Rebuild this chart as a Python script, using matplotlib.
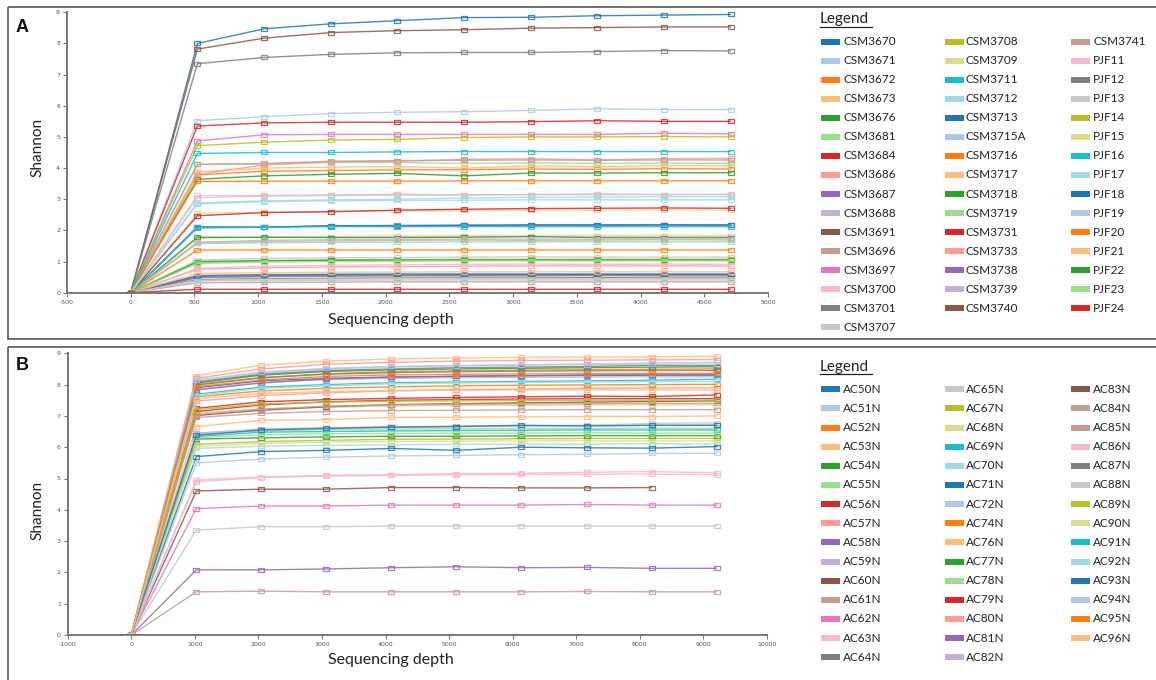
import matplotlib
matplotlib.use('Agg')
import matplotlib.pyplot as plt
from matplotlib.path import Path
from matplotlib.patches import Rectangle
from matplotlib.lines import Line2D

plt.rcParams['axes.unicode_minus'] = False

# ---- panel A data ----
depth_a = [0, 523, 1046, 1569, 2092, 2615, 3138, 3661, 4184, 4707]
names_a = ['CSM3670', 'CSM3671', 'CSM3672', 'CSM3673', 'CSM3676', 'CSM3681', 'CSM3684', 'CSM3686',
           'CSM3687', 'CSM3688', 'CSM3691', 'CSM3696', 'CSM3697', 'CSM3700', 'CSM3701', 'CSM3707',
           'CSM3708', 'CSM3709', 'CSM3711', 'CSM3712', 'CSM3713', 'CSM3715A', 'CSM3716', 'CSM3717',
           'CSM3718', 'CSM3719', 'CSM3731', 'CSM3733', 'CSM3738', 'CSM3739', 'CSM3740',
           'CSM3741', 'PJF11', 'PJF12', 'PJF13', 'PJF14', 'PJF15', 'PJF16', 'PJF17', 'PJF18',
           'PJF19', 'PJF20', 'PJF21', 'PJF22', 'PJF23', 'PJF24']
shannon_a = [
    [0, 8.00, 8.47, 8.63, 8.73, 8.83, 8.84, 8.89, 8.91, 8.93],
    [0, 5.52, 5.65, 5.75, 5.79, 5.81, 5.85, 5.90, 5.88, 5.88],
    [0, 3.78, 3.90, 3.92, 3.94, 3.95, 3.97, 3.96, 3.98, 3.97],
    [0, 3.88, 4.00, 4.03, 4.05, 4.00, 4.07, 4.05, 4.08, 4.07],
    [0, 3.64, 3.75, 3.80, 3.83, 3.75, 3.84, 3.84, 3.85, 3.85],
    [0, 4.12, 4.12, 4.18, 4.18, 4.15, 4.17, 4.15, 4.16, 4.15],
    [0, 5.35, 5.45, 5.47, 5.47, 5.47, 5.49, 5.52, 5.50, 5.50],
    [0, 3.80, 4.10, 4.20, 4.22, 4.28, 4.30, 4.26, 4.30, 4.31],
    [0, 2.08, 2.10, 2.15, 2.16, 2.17, 2.16, 2.16, 2.17, 2.16],
    [0, 1.60, 1.65, 1.66, 1.68, 1.69, 1.68, 1.69, 1.70, 1.69],
    [0, 7.82, 8.17, 8.35, 8.41, 8.44, 8.49, 8.51, 8.53, 8.53],
    [0, 4.12, 4.15, 4.22, 4.24, 4.25, 4.26, 4.25, 4.26, 4.26],
    [0, 4.87, 5.07, 5.08, 5.08, 5.08, 5.08, 5.08, 5.12, 5.10],
    [0, 3.12, 3.12, 3.14, 3.16, 3.14, 3.15, 3.17, 3.15, 3.16],
    [0, 7.35, 7.55, 7.65, 7.70, 7.71, 7.71, 7.74, 7.77, 7.76],
    [0, 1.05, 1.10, 1.12, 1.13, 1.14, 1.15, 1.14, 1.14, 1.14],
    [0, 4.72, 4.83, 4.90, 4.92, 4.98, 5.00, 5.00, 5.01, 5.00],
    [0, 2.55, 2.58, 2.60, 2.62, 2.64, 2.65, 2.65, 2.66, 2.65],
    [0, 4.47, 4.50, 4.50, 4.52, 4.53, 4.53, 4.53, 4.53, 4.53],
    [0, 2.88, 2.95, 2.98, 3.00, 3.04, 3.06, 3.07, 3.08, 3.08],
    [0, 2.12, 2.10, 2.15, 2.14, 2.16, 2.18, 2.18, 2.18, 2.18],
    [0, 0.48, 0.52, 0.55, 0.56, 0.56, 0.57, 0.57, 0.57, 0.57],
    [0, 3.57, 3.58, 3.58, 3.58, 3.59, 3.59, 3.59, 3.59, 3.59],
    [0, 1.75, 1.78, 1.80, 1.81, 1.82, 1.82, 1.82, 1.82, 1.82],
    [0, 1.78, 1.78, 1.77, 1.77, 1.78, 1.80, 1.77, 1.77, 1.77],
    [0, 1.58, 1.60, 1.62, 1.62, 1.63, 1.63, 1.64, 1.63, 1.63],
    [0, 2.47, 2.57, 2.60, 2.65, 2.68, 2.70, 2.71, 2.72, 2.71],
    [0, 0.75, 0.80, 0.83, 0.84, 0.85, 0.86, 0.86, 0.86, 0.86],
    [0, 0.49, 0.52, 0.53, 0.54, 0.54, 0.54, 0.55, 0.54, 0.54],
    [0, 1.62, 1.68, 1.70, 1.71, 1.72, 1.72, 1.72, 1.72, 1.72],
    [0, 0.42, 0.45, 0.46, 0.47, 0.47, 0.47, 0.48, 0.47, 0.47],
    [0, 0.32, 0.33, 0.34, 0.35, 0.35, 0.35, 0.35, 0.35, 0.35],
    [0, 0.78, 0.85, 0.88, 0.90, 0.91, 0.92, 0.91, 0.92, 0.91],
    [0, 0.52, 0.55, 0.57, 0.57, 0.58, 0.58, 0.58, 0.58, 0.58],
    [0, 3.05, 3.10, 3.12, 3.13, 3.14, 3.15, 3.15, 3.15, 3.15],
    [0, 0.96, 1.02, 1.05, 1.06, 1.07, 1.07, 1.07, 1.07, 1.07],
    [0, 0.40, 0.43, 0.44, 0.45, 0.45, 0.45, 0.45, 0.45, 0.45],
    [0, 2.10, 2.10, 2.12, 2.12, 2.12, 2.12, 2.12, 2.12, 2.12],
    [0, 2.85, 2.92, 2.95, 2.96, 2.97, 2.98, 2.98, 2.98, 2.98],
    [0, 0.55, 0.58, 0.59, 0.60, 0.60, 0.60, 0.60, 0.60, 0.60],
    [0, 0.38, 0.39, 0.40, 0.41, 0.41, 0.41, 0.41, 0.41, 0.41],
    [0, 1.37, 1.37, 1.37, 1.37, 1.37, 1.37, 1.37, 1.37, 1.37],
    [0, 0.62, 0.64, 0.66, 0.66, 0.67, 0.67, 0.67, 0.67, 0.67],
    [0, 1.00, 1.03, 1.04, 1.05, 1.05, 1.05, 1.05, 1.05, 1.05],
    [0, 0.94, 0.98, 1.00, 1.01, 1.02, 1.02, 1.02, 1.02, 1.02],
    [0, 0.11, 0.11, 0.11, 0.11, 0.11, 0.11, 0.11, 0.11, 0.11],
]

# ---- panel B data ----
depth_b = [0, 1023, 2046, 3069, 4092, 5115, 6138, 7161, 8184, 9207]
names_b = ['AC50N', 'AC51N', 'AC52N', 'AC53N', 'AC54N', 'AC55N', 'AC56N', 'AC57N', 'AC58N', 'AC59N',
           'AC60N', 'AC61N', 'AC62N', 'AC63N', 'AC64N', 'AC65N', 'AC67N', 'AC68N', 'AC69N', 'AC70N',
           'AC71N', 'AC72N', 'AC74N', 'AC76N', 'AC77N', 'AC78N', 'AC79N', 'AC80N', 'AC81N', 'AC82N',
           'AC83N', 'AC84N', 'AC85N', 'AC86N', 'AC87N', 'AC88N', 'AC89N', 'AC90N', 'AC91N', 'AC92N',
           'AC93N', 'AC94N', 'AC95N', 'AC96N']
shannon_b = [
    [0, 7.90, 8.12, 8.20, 8.24, 8.26, 8.28, 8.29, 8.30, 8.30],
    [0, 8.10, 8.38, 8.50, 8.56, 8.60, 8.63, 8.66, 8.69, 8.71],
    [0, 8.01, 8.22, 8.35, 8.41, 8.44, 8.46, 8.48, 8.49, 8.50],
    [0, 8.29, 8.62, 8.75, 8.82, 8.85, 8.87, 8.88, 8.89, 8.90],
    [0, 8.05, 8.30, 8.42, 8.47, 8.50, 8.52, 8.54, 8.56, 8.57],
    [0, 6.45, 6.52, 6.56, 6.58, 6.59, 6.60, 6.60, 6.61, 6.60],
    [0, 7.24, 7.45, 7.52, 7.56, 7.59, 7.61, 7.63, 7.62, 7.67],
    [0, 7.47, 7.65, 7.74, 7.80, 7.84, 7.86, 7.88, 7.89, 7.90],
    [0, 2.08, 2.08, 2.11, 2.15, 2.18, 2.15, 2.16, 2.13, 2.13],
    [0, 7.85, 8.08, 8.16, 8.20, 8.22, 8.23, 8.24, 8.25, 8.25],
    [0, 4.60, 4.66, 4.66, 4.71, 4.71, 4.70, 4.70, 4.71],
    [0, 1.38, 1.40, 1.38, 1.38, 1.38, 1.38, 1.39, 1.38, 1.38],
    [0, 4.04, 4.12, 4.12, 4.15, 4.15, 4.15, 4.17, 4.15, 4.15],
    [0, 4.90, 5.03, 5.08, 5.10, 5.12, 5.13, 5.14, 5.14, 5.12],
    [0, 8.08, 8.33, 8.45, 8.50, 8.54, 8.56, 8.58, 8.62, 8.60],
    [0, 3.35, 3.46, 3.46, 3.48, 3.48, 3.48, 3.48, 3.48, 3.48],
    [0, 6.09, 6.18, 6.22, 6.25, 6.26, 6.27, 6.28, 6.28, 6.28],
    [0, 7.10, 7.22, 7.28, 7.31, 7.33, 7.34, 7.35, 7.35, 7.35],
    [0, 6.34, 6.48, 6.50, 6.52, 6.53, 6.54, 6.55, 6.55, 6.55],
    [0, 5.96, 6.03, 6.06, 6.08, 6.09, 6.10, 6.10, 6.11, 6.10],
    [0, 5.70, 5.86, 5.90, 5.96, 5.90, 6.00, 5.98, 5.97, 6.02],
    [0, 5.50, 5.62, 5.68, 5.72, 5.74, 5.76, 5.77, 5.80, 5.80],
    [0, 7.61, 7.80, 7.88, 7.93, 7.96, 7.98, 7.99, 8.00, 8.01],
    [0, 6.66, 6.86, 6.88, 6.95, 6.96, 6.97, 6.98, 6.98, 7.00],
    [0, 6.26, 6.30, 6.33, 6.35, 6.35, 6.36, 6.37, 6.37, 6.37],
    [0, 6.30, 6.40, 6.43, 6.44, 6.45, 6.45, 6.46, 6.45, 6.45],
    [0, 7.14, 7.35, 7.45, 7.50, 7.52, 7.54, 7.55, 7.55, 7.55],
    [0, 8.20, 8.50, 8.65, 8.71, 8.75, 8.77, 8.78, 8.79, 8.80],
    [0, 7.83, 8.05, 8.18, 8.24, 8.27, 8.29, 8.31, 8.32, 8.33],
    [0, 6.45, 6.58, 6.62, 6.65, 6.67, 6.68, 6.69, 6.70, 6.70],
    [0, 7.01, 7.18, 7.29, 7.36, 7.39, 7.42, 7.44, 7.46, 7.48],
    [0, 7.05, 7.22, 7.31, 7.35, 7.37, 7.38, 7.39, 7.40, 7.40],
    [0, 6.95, 7.08, 7.14, 7.17, 7.18, 7.19, 7.20, 7.20, 7.20],
    [0, 4.95, 5.05, 5.10, 5.12, 5.15, 5.17, 5.20, 5.22, 5.18],
    [0, 7.98, 8.22, 8.33, 8.38, 8.41, 8.43, 8.44, 8.45, 8.45],
    [0, 6.41, 6.55, 6.60, 6.64, 6.66, 6.68, 6.70, 6.76, 6.78],
    [0, 7.20, 7.38, 7.44, 7.47, 7.48, 7.49, 7.50, 7.50, 7.50],
    [0, 6.02, 6.12, 6.16, 6.18, 6.19, 6.20, 6.20, 6.20, 6.20],
    [0, 7.69, 7.92, 8.00, 8.06, 8.08, 8.10, 8.12, 8.14, 8.17],
    [0, 7.65, 7.88, 7.96, 8.02, 8.05, 8.07, 8.08, 8.09, 8.10],
    [0, 6.38, 6.55, 6.60, 6.64, 6.66, 6.70, 6.68, 6.70, 6.70],
    [0, 8.15, 8.40, 8.52, 8.58, 8.61, 8.63, 8.64, 8.65, 8.65],
    [0, 7.93, 8.15, 8.26, 8.31, 8.33, 8.34, 8.35, 8.36, 8.36],
    [0, 7.55, 7.72, 7.78, 7.81, 7.82, 7.83, 7.83, 7.83, 7.83],
]

# colours (category20 style, as in the legend swatches)
tab20 = ['#1f77b4', '#aec7e8', '#ff7f0e', '#ffbb78', '#2ca02c', '#98df8a', '#d62728', '#ff9896',
         '#9467bd', '#c5b0d5', '#8c564b', '#c49c94', '#e377c2', '#f7b6d2', '#7f7f7f', '#c7c7c7',
         '#bcbd22', '#dbdb8d', '#17becf', '#9edae5']
color_idx_a = list(range(20)) + list(range(12)) + [13, 14, 15, 16, 17, 18, 19, 0, 1, 2, 3, 4, 5, 6]
color_idx_b = list(range(20)) + list(range(12)) + [11, 13, 14, 15, 16, 17, 18, 19, 0, 1, 2, 3]

W, H = 1156, 680
fig = plt.figure(figsize=(W / 100, H / 100), dpi=100)
label_font = ['Lato', 'DejaVu Sans']

# overlay in pixel coordinates for frames and legends
ov = fig.add_axes([0, 0, 1, 1])
ov.set_xlim(0, W)
ov.set_ylim(H, 0)
ov.axis('off')
ov.add_patch(Rectangle((7.5, 6.5), 1160, 332, fill=False, ec='#555555', lw=1.2))
ov.add_patch(Rectangle((7.5, 346.5), 1160, 340, fill=False, ec='#555555', lw=1.2))

box = Path([(-1, -0.45), (1, -0.45), (1, 0.45), (-1, 0.45), (-1, -0.45)], closed=True)


def panel(rect, depth, names, values, cidx, xlim, xticks):
    ax = fig.add_axes(rect)
    ax.set_facecolor('none')
    for name, vals, ci in zip(names, values, cidx):
        c = tab20[ci]
        ax.plot(depth[:len(vals)], vals, '-', color=c, lw=1, alpha=0.85,
                marker=box, markersize=5, mfc='none', mec=c, mew=0.9)
    ax.set_xlim(*xlim)
    ax.set_ylim(0, 9)
    ax.set_xticks(xticks)
    ax.set_yticks(range(10))
    for s in ['top', 'right']:
        ax.spines[s].set_visible(False)
    for s in ['left', 'bottom']:
        ax.spines[s].set_color('#777777')
        ax.spines[s].set_linewidth(1.4)
    ax.tick_params(labelsize=4.5, labelcolor='#555555', color='#777777', length=3, width=0.8, pad=2)
    return ax


def legend(names, cidx, y0, step, per_col):
    ov.text(820, y0 - 22.5, 'Legend', fontsize=11, family=label_font, va='center', ha='left', color='#222222')
    ov.add_line(Line2D([820, 872], [y0 - 15, y0 - 15], color='#222222', lw=0.9))
    sw_x = [820.7, 945, 1070.7]
    tx_x = [843.3, 966, 1093.3]
    k = 0
    for col, n in enumerate(per_col):
        for r in range(n):
            y = y0 + r * step
            ov.add_patch(Rectangle((sw_x[col], y - 3), 19, 6, color=tab20[cidx[k]], lw=0))
            ov.text(tx_x[col], y, names[k], fontsize=8.5, family=label_font, va='center', ha='left',
                    color='#222222')
            k += 1


panel([67 / W, 1 - 292.7 / H, 701 / W, 280.4 / H], depth_a, names_a, shannon_a, color_idx_a,
      (-500, 5000), range(-500, 5001, 500))
panel([67.7 / W, 1 - 635 / H, 699.3 / W, 281.7 / H], depth_b, names_b, shannon_b, color_idx_b,
      (-1000, 10000), range(-1000, 10001, 1000))

legend(names_a, color_idx_a, 41.7, 19.04, [16, 15, 15])
legend(names_b, color_idx_b, 389.3, 19.14, [15, 15, 14])

for y_mid, y_x, letter, y_letter in [(147, 320, 'A', 27), (510, 660, 'B', 366)]:
    ov.text(37, y_mid, 'Shannon', rotation=90, fontsize=11, family=label_font, va='center', ha='center',
            color='#222222')
    ov.text(391, y_x, 'Sequencing depth', fontsize=11.5, family=label_font, va='center', ha='center',
            color='#222222')
    ov.text(22, y_letter, letter, fontsize=13, fontweight='bold', family=['Liberation Sans', 'DejaVu Sans'],
            va='center', ha='center', color='#111111')

plt.savefig('out.png', dpi=100)
